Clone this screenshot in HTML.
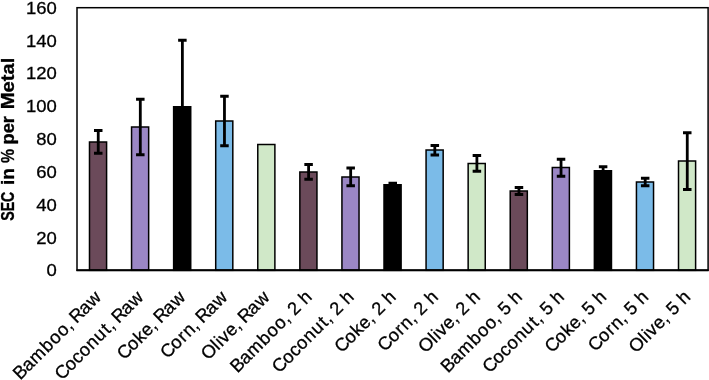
<!DOCTYPE html>
<html lang="en"><head><meta charset="utf-8"><title>SEC in % per Metal</title>
<style>html,body{margin:0;padding:0;background:#fff;overflow:hidden}svg{display:block}text{font-family:"Liberation Sans",sans-serif;fill:#000;stroke:#000;stroke-width:0.3px}</style></head><body>
<svg width="709" height="380" viewBox="0 0 709 380">
<rect x="0" y="0" width="709" height="380" fill="#fff"/>
<rect x="89.49" y="142.00" width="17.10" height="128.30" fill="#6b4a5a" stroke="#000" stroke-width="1.5"/>
<path d="M98.24 130.50V153.25M93.99 130.50H102.49M93.99 153.25H102.49" stroke="#000" stroke-width="2.8" fill="none"/>
<rect x="131.56" y="127.00" width="17.10" height="143.30" fill="#9b87c5" stroke="#000" stroke-width="1.5"/>
<path d="M140.31 99.25V154.75M136.06 99.25H144.56M136.06 154.75H144.56" stroke="#000" stroke-width="2.8" fill="none"/>
<rect x="173.63" y="106.75" width="17.10" height="163.55" fill="#000000" stroke="#000" stroke-width="1.5"/>
<path d="M182.38 40.25V106.00M178.13 40.25H186.63" stroke="#000" stroke-width="2.8" fill="none"/>
<rect x="215.71" y="121.00" width="17.10" height="149.30" fill="#7bbbe8" stroke="#000" stroke-width="1.5"/>
<path d="M224.46 96.25V145.75M220.21 96.25H228.71M220.21 145.75H228.71" stroke="#000" stroke-width="2.8" fill="none"/>
<rect x="257.78" y="144.50" width="17.10" height="125.80" fill="#d0e8c8" stroke="#000" stroke-width="1.5"/>
<rect x="299.85" y="172.00" width="17.10" height="98.30" fill="#6b4a5a" stroke="#000" stroke-width="1.5"/>
<path d="M308.60 164.50V179.25M304.35 164.50H312.85M304.35 179.25H312.85" stroke="#000" stroke-width="2.8" fill="none"/>
<rect x="341.93" y="177.00" width="17.10" height="93.30" fill="#9b87c5" stroke="#000" stroke-width="1.5"/>
<path d="M350.68 168.00V185.75M346.43 168.00H354.93M346.43 185.75H354.93" stroke="#000" stroke-width="2.8" fill="none"/>
<rect x="384.00" y="184.75" width="17.10" height="85.55" fill="#000000" stroke="#000" stroke-width="1.5"/>
<path d="M392.75 183.20V184.00M388.50 183.20H397.00" stroke="#000" stroke-width="2.8" fill="none"/>
<rect x="426.07" y="150.00" width="17.10" height="120.30" fill="#7bbbe8" stroke="#000" stroke-width="1.5"/>
<path d="M434.82 145.50V155.00M430.57 145.50H439.07M430.57 155.00H439.07" stroke="#000" stroke-width="2.8" fill="none"/>
<rect x="468.15" y="163.50" width="17.10" height="106.80" fill="#d0e8c8" stroke="#000" stroke-width="1.5"/>
<path d="M476.90 155.50V171.25M472.65 155.50H481.15M472.65 171.25H481.15" stroke="#000" stroke-width="2.8" fill="none"/>
<rect x="510.22" y="191.00" width="17.10" height="79.30" fill="#6b4a5a" stroke="#000" stroke-width="1.5"/>
<path d="M518.97 187.50V194.50M514.72 187.50H523.22M514.72 194.50H523.22" stroke="#000" stroke-width="2.8" fill="none"/>
<rect x="552.29" y="167.50" width="17.10" height="102.80" fill="#9b87c5" stroke="#000" stroke-width="1.5"/>
<path d="M561.04 159.25V176.25M556.79 159.25H565.29M556.79 176.25H565.29" stroke="#000" stroke-width="2.8" fill="none"/>
<rect x="594.37" y="170.75" width="17.10" height="99.55" fill="#000000" stroke="#000" stroke-width="1.5"/>
<path d="M603.12 166.75V170.00M598.87 166.75H607.37" stroke="#000" stroke-width="2.8" fill="none"/>
<rect x="636.44" y="182.00" width="17.10" height="88.30" fill="#7bbbe8" stroke="#000" stroke-width="1.5"/>
<path d="M645.19 178.25V185.75M640.94 178.25H649.44M640.94 185.75H649.44" stroke="#000" stroke-width="2.8" fill="none"/>
<rect x="678.51" y="161.00" width="17.10" height="109.30" fill="#d0e8c8" stroke="#000" stroke-width="1.5"/>
<path d="M687.26 132.75V189.50M683.01 132.75H691.51M683.01 189.50H691.51" stroke="#000" stroke-width="2.8" fill="none"/>
<rect x="77.0" y="7.7" width="631.1" height="262.6" fill="none" stroke="#000" stroke-width="1.5"/>
<line x1="76.5" y1="270.3" x2="708.6" y2="270.3" stroke="#000" stroke-width="1.9"/>
<text x="56.8" y="276.36" font-size="17.2" text-anchor="end" textLength="10.28" lengthAdjust="spacingAndGlyphs">0</text>
<text x="56.8" y="243.53" font-size="17.2" text-anchor="end" textLength="20.57" lengthAdjust="spacingAndGlyphs">20</text>
<text x="56.8" y="210.71" font-size="17.2" text-anchor="end" textLength="20.57" lengthAdjust="spacingAndGlyphs">40</text>
<text x="56.8" y="177.88" font-size="17.2" text-anchor="end" textLength="20.57" lengthAdjust="spacingAndGlyphs">60</text>
<text x="56.8" y="145.06" font-size="17.2" text-anchor="end" textLength="20.57" lengthAdjust="spacingAndGlyphs">80</text>
<text x="56.8" y="112.23" font-size="17.2" text-anchor="end" textLength="30.85" lengthAdjust="spacingAndGlyphs">100</text>
<text x="56.8" y="79.41" font-size="17.2" text-anchor="end" textLength="30.85" lengthAdjust="spacingAndGlyphs">120</text>
<text x="56.8" y="46.58" font-size="17.2" text-anchor="end" textLength="30.85" lengthAdjust="spacingAndGlyphs">140</text>
<text x="56.8" y="13.76" font-size="17.2" text-anchor="end" textLength="30.85" lengthAdjust="spacingAndGlyphs">160</text>
<text transform="translate(14.0 0) rotate(-90) scale(1 1.04)" font-size="17.8" font-weight="bold"><tspan x="-220.80" textLength="29.15" lengthAdjust="spacingAndGlyphs">SEC</tspan> <tspan x="-184.93" textLength="16.87" lengthAdjust="spacingAndGlyphs">in</tspan> <tspan x="-163.04" textLength="14.04" lengthAdjust="spacingAndGlyphs">%</tspan> <tspan x="-144.48" textLength="28.36" lengthAdjust="spacingAndGlyphs">per</tspan> <tspan x="-109.22" textLength="51.58" lengthAdjust="spacingAndGlyphs">Metal</tspan></text>
<text transform="translate(102.74 297.9) rotate(-45)" font-size="18.3" x="-116.69 -105.09 -94.40 -78.16 -67.26 -56.34 -45.76 -40.84 -36.94 -24.84 -14.01">Bamboo, Raw</text>
<text transform="translate(144.81 297.9) rotate(-45)" font-size="18.3" x="-117.19 -104.70 -94.35 -85.03 -74.13 -63.26 -51.81 -45.76 -40.84 -36.94 -24.84 -14.01">Coconut, Raw</text>
<text transform="translate(186.88 297.9) rotate(-45)" font-size="18.3" x="-88.55 -76.05 -65.38 -56.04 -45.76 -40.84 -36.94 -24.84 -14.01">Coke, Raw</text>
<text transform="translate(228.96 297.9) rotate(-45)" font-size="18.3" x="-86.93 -74.44 -63.33 -56.32 -45.76 -40.84 -36.94 -24.84 -14.01">Corn, Raw</text>
<text transform="translate(271.03 297.9) rotate(-45)" font-size="18.3" x="-88.92 -74.60 -69.85 -65.35 -56.04 -45.76 -40.84 -36.94 -24.84 -14.01">Olive, Raw</text>
<text transform="translate(313.10 297.9) rotate(-45)" font-size="18.3" x="-106.78 -95.18 -84.49 -68.25 -57.36 -46.44 -35.85 -30.93 -25.89 -15.76 -10.53">Bamboo, 2 h</text>
<text transform="translate(355.18 297.9) rotate(-45)" font-size="18.3" x="-107.29 -94.79 -84.44 -75.12 -64.23 -53.35 -41.90 -35.85 -30.93 -25.89 -15.76 -10.53">Coconut, 2 h</text>
<text transform="translate(397.25 297.9) rotate(-45)" font-size="18.3" x="-78.64 -66.15 -55.47 -46.13 -35.85 -30.93 -25.89 -15.76 -10.53">Coke, 2 h</text>
<text transform="translate(439.32 297.9) rotate(-45)" font-size="18.3" x="-77.03 -64.53 -53.42 -46.42 -35.85 -30.93 -25.89 -15.76 -10.53">Corn, 2 h</text>
<text transform="translate(481.40 297.9) rotate(-45)" font-size="18.3" x="-79.01 -64.70 -59.95 -55.44 -46.13 -35.85 -30.93 -25.89 -15.76 -10.53">Olive, 2 h</text>
<text transform="translate(523.47 297.9) rotate(-45)" font-size="18.3" x="-106.78 -95.18 -84.49 -68.25 -57.36 -46.44 -35.85 -30.93 -25.89 -15.76 -10.53">Bamboo, 5 h</text>
<text transform="translate(565.54 297.9) rotate(-45)" font-size="18.3" x="-107.29 -94.79 -84.44 -75.12 -64.23 -53.35 -41.90 -35.85 -30.93 -25.89 -15.76 -10.53">Coconut, 5 h</text>
<text transform="translate(607.62 297.9) rotate(-45)" font-size="18.3" x="-78.64 -66.15 -55.47 -46.13 -35.85 -30.93 -25.89 -15.76 -10.53">Coke, 5 h</text>
<text transform="translate(649.69 297.9) rotate(-45)" font-size="18.3" x="-77.03 -64.53 -53.42 -46.42 -35.85 -30.93 -25.89 -15.76 -10.53">Corn, 5 h</text>
<text transform="translate(691.76 297.9) rotate(-45)" font-size="18.3" x="-79.01 -64.70 -59.95 -55.44 -46.13 -35.85 -30.93 -25.89 -15.76 -10.53">Olive, 5 h</text>
</svg></body></html>
